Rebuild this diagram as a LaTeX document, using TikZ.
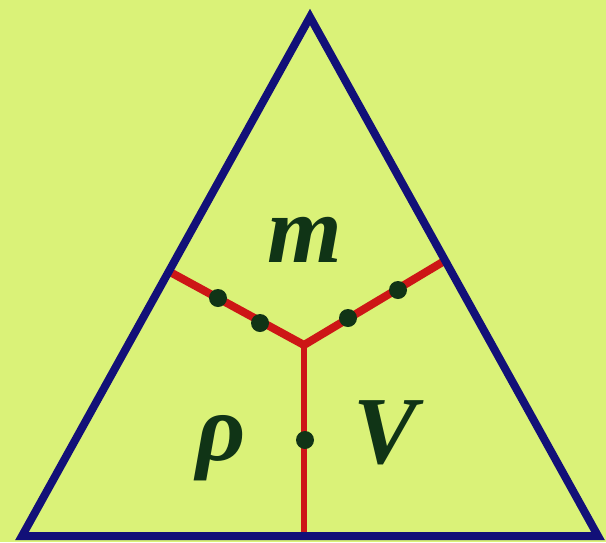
\documentclass[tikz,border=0pt]{standalone}
\usepackage{fontspec}
\setmainfont{Liberation Serif}
\definecolor{bgc}{RGB}{218,242,120}
\definecolor{navy}{RGB}{18,16,120}
\definecolor{redl}{RGB}{205,22,22}
\definecolor{dgreen}{RGB}{16,52,22}
\begin{document}
\begin{tikzpicture}[x=1pt,y=-1pt,
  side/.style={draw=navy,line width=8pt,line join=miter},
  arm/.style={draw=redl,line width=8pt,line join=miter},
  stem/.style={draw=redl,line width=6.5pt},
  pt/.style={fill=dgreen},
  lbl/.style={text=dgreen,inner sep=0pt,anchor=base,font=\fontsize{96}{96}\selectfont\bfseries\itshape}]
\fill[bgc] (0,0) rectangle (606,542);
\useasboundingbox (0,0) rectangle (606,542);
\coordinate (A) at (310,17);
\coordinate (B) at (22,536);
\coordinate (C) at (598,536);
\coordinate (J) at (304,345);
\coordinate (L) at (170,272);
\coordinate (R) at (446,260);
\coordinate (D) at (304,536);
\draw[arm] (L) -- (J) -- (R);
\draw[stem] (J) -- (D);
\draw[side] (A) -- (B) -- (C) -- cycle;
\fill[pt] (218,298) circle (9);
\fill[pt] (260,323) circle (9);
\fill[pt] (348,318) circle (9);
\fill[pt] (398,290) circle (9);
\fill[pt] (305,440) circle (9);
\node[lbl] (m) at (305,262) {m};
\node[lbl] (rho) at (221,460) {ρ};
\node[lbl] (V) at (386,463) {V};
\end{tikzpicture}
\end{document}
